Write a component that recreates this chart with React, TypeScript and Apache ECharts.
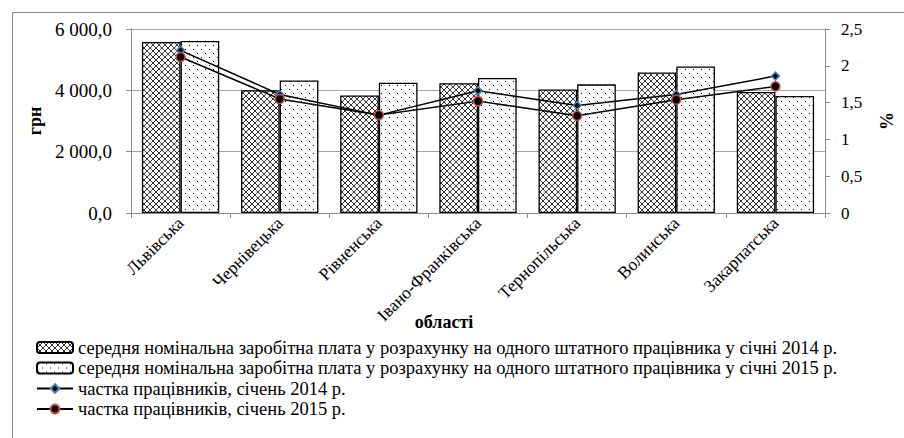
import React, { useEffect, useRef } from "react";
import * as echarts from "echarts";

const categories = [
  "Львівська",
  "Чернівецька",
  "Рівненська",
  "Івано-Франківська",
  "Тернопільська",
  "Волинська",
  "Закарпатська",
];
const wage2014 = [5580, 4005, 3835, 4235, 4030, 4580, 3945];
const wage2015 = [5610, 4320, 4245, 4405, 4195, 4780, 3815];
const share2014 = [2.21, 1.61, 1.33, 1.66, 1.46, 1.61, 1.86];
const share2015 = [2.12, 1.55, 1.33, 1.52, 1.32, 1.54, 1.72];

const seriesNames = [
  "середня номінальна заробітна плата у розрахунку на одного штатного працівника у січні 2014 р.",
  "середня номінальна заробітна плата у розрахунку на одного штатного працівника у січні 2015 р.",
  "частка працівників, січень 2014 р.",
  "частка працівників, січень 2015 р.",
];

const FONT = "Liberation Serif";

const crossSvg =
  "data:image/svg+xml;charset=utf-8," +
  encodeURIComponent(
    "<svg xmlns='http://www.w3.org/2000/svg' width='6' height='6'><rect width='6' height='6' fill='white'/><path d='M0 0L6 6M6 0L0 6' stroke='black' stroke-width='0.8'/></svg>"
  );
const dotSvg =
  "data:image/svg+xml;charset=utf-8," +
  encodeURIComponent(
    "<svg xmlns='http://www.w3.org/2000/svg' width='8' height='8'><rect width='8' height='8' fill='white'/><rect x='1' y='1' width='1' height='1' fill='black'/><rect x='5' y='5' width='1' height='1' fill='black'/></svg>"
  );

function fmtLeft(v: number): string {
  const s = v.toFixed(1).replace(".", ",");
  const [int, dec] = s.split(",");
  const withSp = int.replace(/\B(?=(\d{3})+(?!\d))/g, " ");
  return withSp + "," + dec;
}

export default function App() {
  const ref = useRef<HTMLDivElement>(null);
  useEffect(() => {
    document.body.style.margin = "0";
    if (!ref.current) return;
    const chart = echarts.init(ref.current, undefined, { renderer: "svg" });
    const crossPattern: any = { image: crossSvg, repeat: "repeat", imageWidth: 6, imageHeight: 6 };
    const dotPattern: any = { image: dotSvg, repeat: "repeat", imageWidth: 8, imageHeight: 8 };
    chart.setOption({
      animation: false,
      backgroundColor: "#ffffff",
      textStyle: { fontFamily: FONT, color: "#000" },
      grid: { left: 131, right: 70, top: 29, height: 184, containLabel: false },
      legend: {
        orient: "vertical",
        left: 36,
        top: 338,
        itemWidth: 36,
        itemHeight: 11,
        itemGap: 1.5,
        padding: 0,
        textStyle: { fontFamily: FONT, fontSize: 18.5, color: "#000", lineHeight: 16 },
        data: seriesNames,
      },
      xAxis: {
        type: "category",
        data: categories,
        axisLine: { lineStyle: { color: "#8c8c8c", width: 1 } },
        axisTick: { show: true, length: 5, lineStyle: { color: "#8c8c8c" } },
        axisLabel: { rotate: 45, fontSize: 17.5, fontFamily: FONT, color: "#000", margin: 7, interval: 0 },
      },
      yAxis: [
        {
          type: "value",
          min: 0,
          max: 6000,
          interval: 2000,
          name: "грн",
          nameLocation: "middle",
          nameGap: 86,
          nameTextStyle: { fontFamily: FONT, fontSize: 18, fontWeight: "bold", color: "#000" },
          axisLine: { show: true, lineStyle: { color: "#8c8c8c" } },
          axisTick: { show: true, length: 5, lineStyle: { color: "#8c8c8c" } },
          axisLabel: { fontSize: 19, fontFamily: FONT, color: "#000", margin: 19, formatter: fmtLeft },
          splitLine: { show: true, lineStyle: { color: "#a6a6a6", width: 1 } },
        },
        {
          type: "value",
          min: 0,
          max: 2.5,
          interval: 0.5,
          position: "right",
          name: "%",
          nameLocation: "middle",
          nameGap: 53,
          nameTextStyle: { fontFamily: FONT, fontSize: 18, fontWeight: "bold", color: "#000" },
          axisLine: { show: true, lineStyle: { color: "#8c8c8c" } },
          axisTick: { show: true, length: 5, lineStyle: { color: "#8c8c8c" } },
          axisLabel: {
            fontSize: 17,
            fontFamily: FONT,
            color: "#000",
            margin: 16,
            formatter: (v: number) => String(v).replace(".", ","),
          },
          splitLine: { show: false },
        },
      ],
      series: [
        {
          name: seriesNames[0],
          type: "bar",
          data: wage2014,
          barGap: "0%",
          barCategoryGap: "22%",
          itemStyle: { color: crossPattern, borderColor: "#000", borderWidth: 1.3 },
        },
        {
          name: seriesNames[1],
          type: "bar",
          data: wage2015,
          barGap: "0%",
          barCategoryGap: "22%",
          itemStyle: { color: dotPattern, borderColor: "#000", borderWidth: 1.3 },
        },
        {
          name: seriesNames[2],
          type: "line",
          yAxisIndex: 1,
          data: share2014,
          symbol: "diamond",
          symbolSize: 8,
          lineStyle: { color: "#000", width: 1.5 },
          itemStyle: { color: "#000", borderColor: "#4f81bd", borderWidth: 1.5 },
          z: 5,
        },
        {
          name: seriesNames[3],
          type: "line",
          yAxisIndex: 1,
          data: share2015,
          symbol: "circle",
          symbolSize: 9,
          lineStyle: { color: "#000", width: 1.5 },
          itemStyle: { color: "#000", borderColor: "#c0504d", borderWidth: 1.5 },
          z: 5,
        },
      ],
      graphic: [
        {
          type: "rect",
          shape: { x: 12.5, y: 12.5, width: 1000, height: 1000 },
          style: { fill: "none", stroke: "#8c8c8c", lineWidth: 1 },
          silent: true,
          z: -10,
        },
        {
          type: "text",
          x: 444,
          y: 322,
          style: {
            text: "області",
            fontFamily: FONT,
            fontSize: 18,
            fontWeight: "bold",
            fill: "#000",
            align: "center",
            verticalAlign: "middle",
          },
        },
      ],
    });
    return () => chart.dispose();
  }, []);
  return <div ref={ref} style={{ width: 904, height: 438 }} />;
}
